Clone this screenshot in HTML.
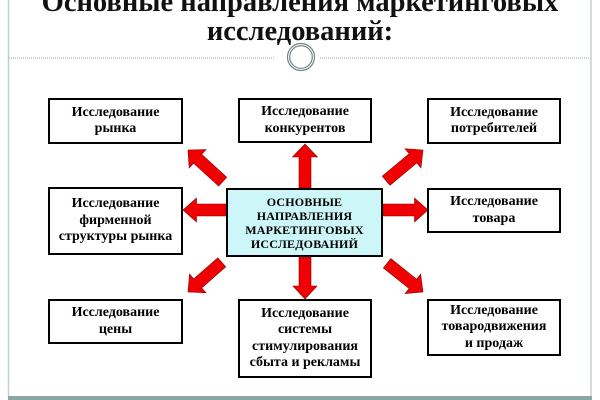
<!DOCTYPE html>
<html>
<head>
<meta charset="utf-8">
<style>
  html,body{margin:0;padding:0;background:#fff;}
  body{width:600px;height:400px;position:relative;overflow:hidden;font-family:"Liberation Serif","Noto Serif CJK SC",serif;}
  .title{position:absolute;left:0;width:600px;text-align:center;font-weight:bold;font-size:28.5px;line-height:29px;color:#111;white-space:nowrap;}
  .box{position:absolute;box-sizing:border-box;border:2px solid #000;background:#fff;display:flex;align-items:center;justify-content:center;text-align:center;font-weight:bold;font-size:14px;line-height:16.5px;color:#000;}
  .center{background:#ccf6f8;font-size:12px;line-height:14px;letter-spacing:0.2px;}
  svg{position:absolute;left:0;top:0;}
</style>
</head>
<body>
<svg width="600" height="400" viewBox="0 0 600 400">
  <!-- frame -->
  <line x1="8.5" y1="0" x2="8.5" y2="396" stroke="#c6cfcf" stroke-width="1.5"/>
  <line x1="591" y1="0" x2="591" y2="396" stroke="#c6cfcf" stroke-width="1.5"/>
  <rect x="8" y="396" width="584" height="4" fill="#8aa6a5"/>
  <!-- dotted divider -->
  <line x1="9" y1="58" x2="274" y2="58" stroke="#9aa4a4" stroke-width="1" stroke-dasharray="1,1"/>
  <line x1="320" y1="58" x2="590" y2="58" stroke="#9aa4a4" stroke-width="1" stroke-dasharray="1,1"/>
  <circle cx="301" cy="57" r="13.5" fill="#fff" stroke="#6f8484" stroke-width="1.2"/>
  <circle cx="301" cy="57" r="11.3" fill="none" stroke="#6f8484" stroke-width="1.2"/>

  <!-- arrows: tip at origin, pointing +x -->
  <g fill="#f00000" stroke="#8a0000" stroke-width="0.6">
    <!-- up -->
    <polygon transform="translate(305,144) rotate(-90)" points="0,0 -13,-12.5 -13,-6 -44,-6 -44,6 -13,6 -13,12.5"/>
    <!-- down -->
    <polygon transform="translate(305,299) rotate(90)" points="0,0 -13,-12 -13,-6 -42,-6 -42,6 -13,6 -13,12"/>
    <!-- left -->
    <polygon transform="translate(183,210) rotate(180)" points="0,0 -13.5,-12 -13.5,-6 -43,-6 -43,6 -13.5,6 -13.5,12"/>
    <!-- right -->
    <polygon transform="translate(428,210)" points="0,0 -13.5,-12 -13.5,-6 -45,-6 -45,6 -13.5,6 -13.5,12"/>
    <!-- up-left -->
    <polygon transform="translate(188,150) rotate(-137.6)" points="0,0 -13,-12.5 -13,-6 -47,-6 -47,6 -13,6 -13,12.5"/>
    <!-- up-right -->
    <polygon transform="translate(423,150) rotate(-39.8)" points="0,0 -13,-12.5 -13,-6 -48,-6 -48,6 -13,6 -13,12.5"/>
    <!-- down-left -->
    <polygon transform="translate(188,292) rotate(138.7)" points="0,0 -13,-12.5 -13,-6 -45,-6 -45,6 -13,6 -13,12.5"/>
    <!-- down-right -->
    <polygon transform="translate(423,292) rotate(38.7)" points="0,0 -13,-12.5 -13,-6 -46,-6 -46,6 -13,6 -13,12.5"/>
  </g>
</svg>

<div class="title" style="top:-12px;">Основные направления маркетинговых</div>
<div class="title" style="top:17px;">исследований:</div>

<div class="box" style="left:48px;top:98px;width:135px;height:46px;">Исследование<br>рынка</div>
<div class="box" style="left:238px;top:98px;width:134px;height:45px;">Исследование<br>конкурентов</div>
<div class="box" style="left:427px;top:98px;width:134px;height:46px;">Исследование<br>потребителей</div>

<div class="box" style="left:48px;top:187px;width:135px;height:68px;">Исследование<br>фирменной<br>структуры рынка</div>
<div class="box center" style="left:226px;top:188px;width:157px;height:69px;">ОСНОВНЫЕ<br>НАПРАВЛЕНИЯ<br>МАРКЕТИНГОВЫХ<br>ИССЛЕДОВАНИЙ</div>
<div class="box" style="left:427px;top:188px;width:134px;height:45px;">Исследование<br>товара</div>

<div class="box" style="left:48px;top:299px;width:135px;height:45px;">Исследование<br>цены</div>
<div class="box" style="left:238px;top:299px;width:134px;height:79px;">Исследование<br>системы<br>стимулирования<br>сбыта и рекламы</div>
<div class="box" style="left:427px;top:299px;width:134px;height:57px;">Исследование<br>товародвижения<br>и продаж</div>
</body>
</html>
